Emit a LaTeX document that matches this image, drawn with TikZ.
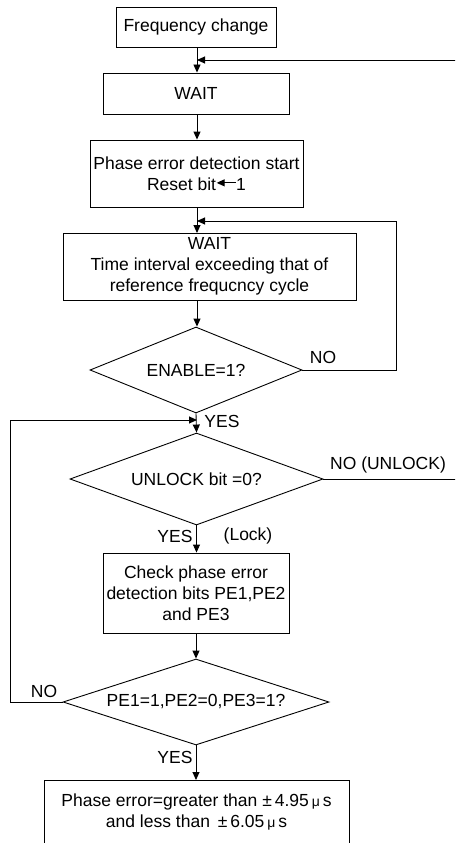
\documentclass[tikz,border=0pt]{standalone}
\usepackage{fontspec}
\setmainfont{Liberation Sans}
\usetikzlibrary{shapes.geometric,arrows.meta}
\newcommand{\resetarrow}{\tikz[baseline=-0.3ex,x=1pt,y=1pt]\draw[line width=1.1pt,-{Triangle[length=8pt,width=7pt]}] (19,0.5ex) -- (0,0.5ex);}
\newcommand{\smallmu}{{\fontsize{14}{14}\selectfont μ}}
\begin{document}
\begin{tikzpicture}[x=1pt,y=-1pt,
  every node/.style={font=\fontsize{17.5}{21}\selectfont, inner sep=0pt},
  box/.style={draw, line width=0.9pt, rectangle, align=center},
  dia/.style={draw, line width=0.9pt, diamond, inner sep=0pt},
  conn/.style={line width=0.9pt},
  arr/.style={line width=0.9pt, -{Triangle[length=8pt,width=7pt]}}]
\useasboundingbox (0,0) rectangle (455,843);
\clip (0,0) rectangle (455,843);

% nodes
\node[box, minimum width=160pt, minimum height=40pt] (fc) at (196,27) {Frequency change};
\node[box, minimum width=186pt, minimum height=41pt] (w1) at (196,93.5) {WAIT};
\node[box, minimum width=213pt, minimum height=67pt] (ped) at (196.5,173.5) {Phase error detection start\\Reset bit\resetarrow1};
\node[box, minimum width=293pt, minimum height=67pt] (w2) at (209.5,266.5) {WAIT\\Time interval exceeding that of\\reference frequcncy cycle};
\coordinate (w2in) at (197,233);
\coordinate (w2out) at (197,300);
\node[dia, aspect=2.465, minimum width=212pt, minimum height=86pt] (d1) at (196,370) {ENABLE=1?};
\node[dia, aspect=2.75, minimum width=253pt, minimum height=92pt] (d2) at (196.5,479) {UNLOCK bit =0?};
\node[box, minimum width=186pt, minimum height=80pt] (chk) at (196,593) {Check phase error\\detection bits PE1,PE2\\and PE3};
\node[dia, aspect=3.093, minimum width=266pt, minimum height=86pt] (d3) at (196,702) {PE1=1,PE2=0,PE3=1?};
\node[box, minimum width=305pt, minimum height=100pt, anchor=north] (fin) at (196.5,780) {};
\node[align=center] (fintxt) at (196.5,812) {Phase error=greater than ±\,4.95\,\smallmu\,s\\and less than \,±\,6.05\,\smallmu\,s};

% free ends and bends
\coordinate (topin) at (456,60);
\coordinate (topjoin) at (197,60);
\coordinate (nr) at (396,370);
\coordinate (nrtop) at (396,221);
\coordinate (w2join) at (197,221);
\coordinate (nl) at (10,702);
\coordinate (nltop) at (10,420);
\coordinate (d2join) at (197,420);
\coordinate (unl) at (456,479);

% main flow
\draw[arr] (fc.south -| topjoin) -- (w1.north -| topjoin);
\draw[arr] (w1.south -| topjoin) -- (ped.north -| topjoin);
\draw[arr] (ped.south -| w2in) -- (w2in);
\draw[arr] (w2out) -- (d1.north -| w2out);
\draw[arr] (d1.south) -- (d2.north);
\draw[arr] (d2.south) -- (chk.north -| d2.south);
\draw[arr] (chk.south) -- (d3.north);
\draw[arr] (d3.south) -- (fin.north -| d3.south);

% feedback lines
\draw[arr] (topin) -- (topjoin);
\draw[arr] (d1.east) -- (nr) -- (nrtop) -- (w2join);
\draw[arr] (d3.west) -- (nl) -- (nltop) -- (d2join);
\draw[conn] (d2.east) -- (unl);

% labels
\node (yes1) at (222,421) {YES};
\node (no1) at (323,357) {NO};
\node (no2) at (388,465) {NO (UNLOCK)};
\node (yes2) at (175,536) {YES};
\node (lock) at (248,536) {(Lock)};
\node (no3) at (44,691) {NO};
\node (yes3) at (175,757) {YES};
\end{tikzpicture}
\end{document}
